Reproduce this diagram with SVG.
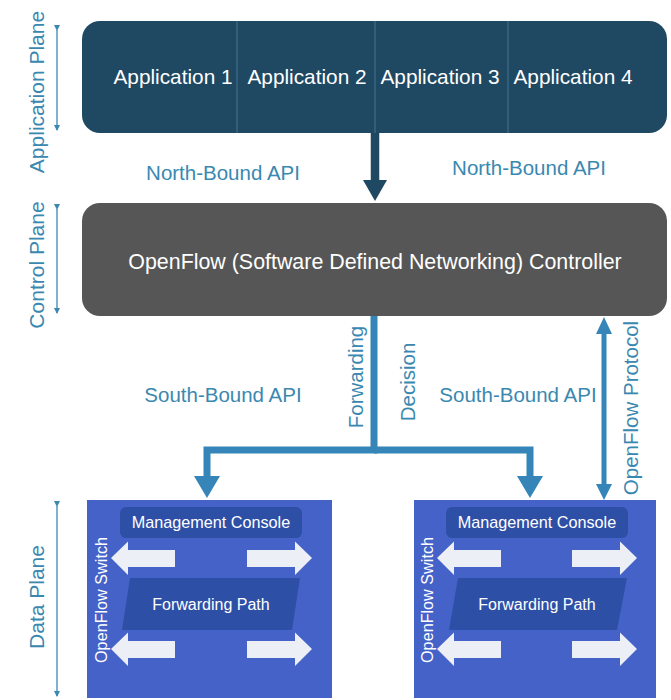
<svg xmlns="http://www.w3.org/2000/svg" width="671" height="700" viewBox="0 0 671 700">
<style>
  text { font-family: "Liberation Sans", Arial, sans-serif; }
  .teal { fill: #3a88b0; font-size: 20.5px; text-anchor: middle; }
  .pl { font-size: 21px; }
  .white { fill: #ffffff; text-anchor: middle; }
  .app { font-size: 20.8px; }
  .ctrl { font-size: 21.4px; }
  .mc { font-size: 16.2px; }
  .fp { font-size: 16px; }
  .sw { font-size: 16.2px; }
  .plane { fill: none; stroke: #3a88b0; stroke-width: 1.3; }
  .sb { fill: none; stroke: #3585b8; stroke-width: 7; }
  .warrow { fill: #eceff6; }
  .dbox { fill: #4562c8; }
  .inner { fill: #2e4fa6; }
</style>
<defs>
  <marker id="thin" markerWidth="6" markerHeight="6" refX="5" refY="3" orient="auto" markerUnits="userSpaceOnUse">
    <path d="M0,0 L6,3 L0,6 Z" fill="#3a88b0"/>
  </marker>
</defs>
<rect width="671" height="700" fill="#ffffff"/>

<g id="plane-labels">
  <line class="plane" x1="57" y1="30" x2="57" y2="130" marker-start="url(#thin)" marker-end="url(#thin)"/>
  <text class="teal pl" transform="translate(36,92) rotate(-90)" dominant-baseline="central">Application Plane</text>
  <line class="plane" x1="57" y1="209" x2="57" y2="313" marker-start="url(#thin)" marker-end="url(#thin)"/>
  <text class="teal pl" transform="translate(36,265) rotate(-90)" dominant-baseline="central">Control Plane</text>
  <line class="plane" x1="57" y1="506" x2="57" y2="696" marker-start="url(#thin)" marker-end="url(#thin)"/>
  <text class="teal pl" transform="translate(36,597) rotate(-90)" dominant-baseline="central">Data Plane</text>
</g>

<g id="applications">
  <rect x="82" y="21" width="585" height="112" rx="18" fill="#1f4862"/>
  <line x1="237" y1="21" x2="237" y2="133" stroke="#3f6d88" stroke-width="1.2"/>
  <line x1="375" y1="21" x2="375" y2="133" stroke="#3f6d88" stroke-width="1.2"/>
  <line x1="508" y1="21" x2="508" y2="133" stroke="#3f6d88" stroke-width="1.2"/>
  <text class="white app" x="173" y="84">Application 1</text>
  <text class="white app" x="307" y="84">Application 2</text>
  <text class="white app" x="440" y="84">Application 3</text>
  <text class="white app" x="573" y="84">Application 4</text>
</g>

<g id="controller">
  <rect x="82" y="203" width="585" height="113" rx="18" fill="#565656"/>
  <text class="white ctrl" x="375" y="269">OpenFlow (Software Defined Networking) Controller</text>
</g>

<g id="switch-left">
  <rect class="dbox" x="87" y="500" width="245" height="198"/>
  <rect class="inner" x="120" y="507" width="182" height="31" rx="6"/>
  <text class="white mc" x="211" y="528">Management Console</text>
  <path class="warrow" d="M111,558 L128,541.5 L128,550 L175,550 L175,567 L128,567 L128,575 Z"/>
  <path class="warrow" d="M312,558 L295,541.5 L295,550 L247,550 L247,567 L295,567 L295,575 Z"/>
  <polygon class="inner" points="130,578 300,578 292,630 122,630"/>
  <text class="white fp" x="211" y="610">Forwarding Path</text>
  <path class="warrow" d="M111,649 L128,632.5 L128,641 L175,641 L175,658 L128,658 L128,666 Z"/>
  <path class="warrow" d="M312,649 L295,632.5 L295,641 L247,641 L247,658 L295,658 L295,666 Z"/>
  <text class="white sw" transform="translate(101,600) rotate(-90)" dominant-baseline="central">OpenFlow Switch</text>
</g>

<g id="switch-right">
  <rect class="dbox" x="414" y="500" width="242" height="198"/>
  <rect class="inner" x="446" y="507" width="182" height="31" rx="6"/>
  <text class="white mc" x="537" y="528">Management Console</text>
  <path class="warrow" d="M437,558 L454,541.5 L454,550 L501,550 L501,567 L454,567 L454,575 Z"/>
  <path class="warrow" d="M637,558 L620,541.5 L620,550 L572,550 L572,567 L620,567 L620,575 Z"/>
  <polygon class="inner" points="458,578 627,578 617,630 449,630"/>
  <text class="white fp" x="537" y="610">Forwarding Path</text>
  <path class="warrow" d="M437,649 L454,632.5 L454,641 L501,641 L501,658 L454,658 L454,666 Z"/>
  <path class="warrow" d="M637,649 L620,632.5 L620,641 L572,641 L572,658 L620,658 L620,666 Z"/>
  <text class="white sw" transform="translate(427,600) rotate(-90)" dominant-baseline="central">OpenFlow Switch</text>
</g>

<g id="connectors">
  <line x1="375" y1="133" x2="375" y2="182" stroke="#1f4862" stroke-width="8.5"/>
  <polygon points="363,180 387,180 375,201" fill="#1f4862"/>

  <polyline class="sb" points="374,316 374,450 207,450 207,480"/>
  <polyline class="sb" points="374,450 530,450 530,480"/>
  <polygon points="194,476 220,476 207,498" fill="#3585b8"/>
  <polygon points="517,476 543,476 530,498" fill="#3585b8"/>

  <line x1="604" y1="332" x2="604" y2="486" stroke="#3585b8" stroke-width="5"/>
  <polygon points="596,334 612,334 604,317" fill="#3585b8"/>
  <polygon points="596,484 612,484 604,500" fill="#3585b8"/>
</g>

<g id="labels">
  <text class="teal" x="223" y="180">North-Bound API</text>
  <text class="teal" x="529" y="175">North-Bound API</text>
  <text class="teal" x="223" y="402">South-Bound API</text>
  <text class="teal" x="518" y="402">South-Bound API</text>
  <text class="teal" transform="translate(355,377) rotate(-90)" dominant-baseline="central">Forwarding</text>
  <text class="teal" transform="translate(407,382) rotate(-90)" dominant-baseline="central">Decision</text>
  <text class="teal" transform="translate(630,408) rotate(-90)" dominant-baseline="central">OpenFlow Protocol</text>
</g>
</svg>
